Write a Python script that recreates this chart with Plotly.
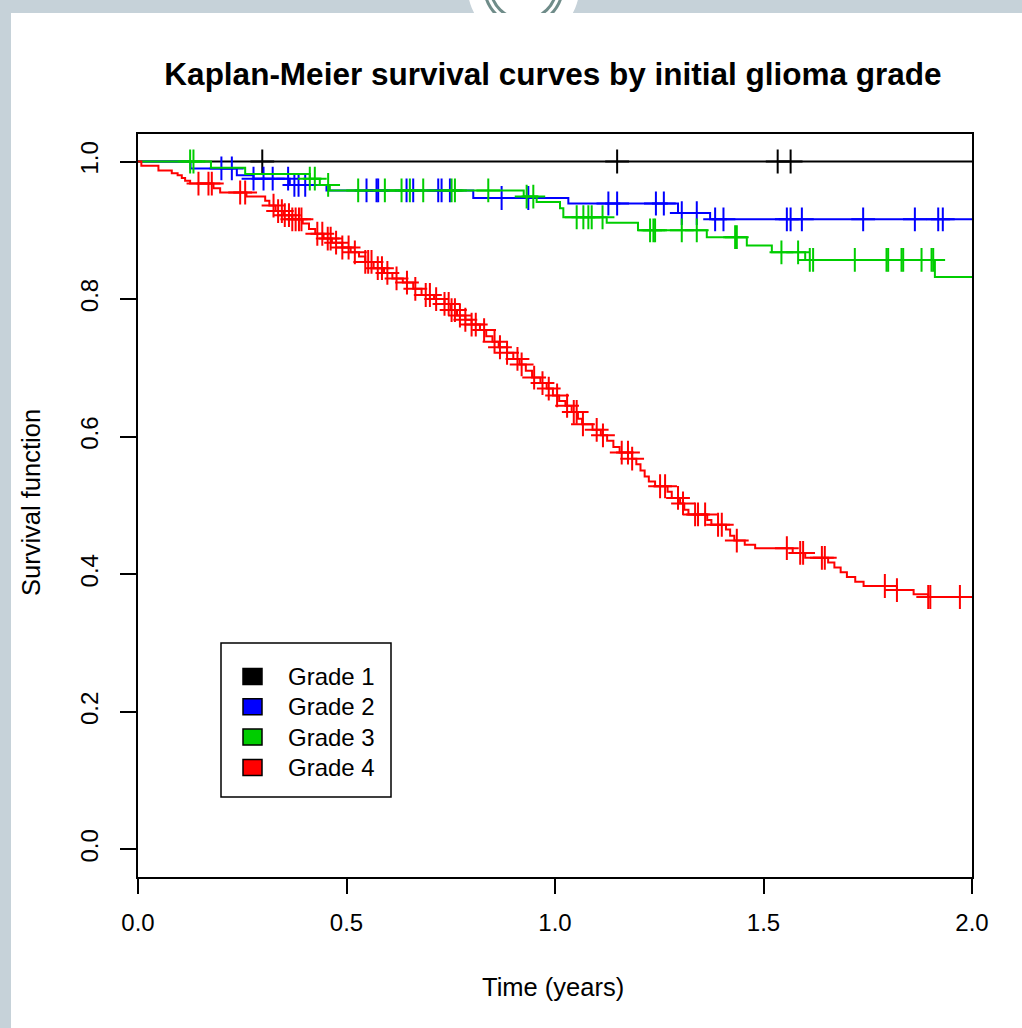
import numpy as np
import plotly.graph_objects as go

# ---------------- data ----------------
grades = ["Grade 1", "Grade 2", "Grade 3", "Grade 4"]
colors = ["#000000", "#0000FF", "#00CD00", "#FF0000"]
followup_end = 2.0

x_tick_vals = [0.0, 0.5, 1.0, 1.5, 2.0]
x_tick_text = ["0.0", "0.5", "1.0", "1.5", "2.0"]
y_tick_vals = [0.0, 0.2, 0.4, 0.6, 0.8, 1.0]
y_tick_text = ["0.0", "0.2", "0.4", "0.6", "0.8", "1.0"]

# Grade 1
g1_time = [0.0]
g1_surv = [1.0]
g1_cens = [0.298, 1.149, 1.534, 1.565]

# Grade 2
g2_time = [0.0, 0.126, 0.237, 0.277, 0.364, 0.452, 0.804, 1.032, 1.295, 1.372]
g2_surv = [1.0, 0.990, 0.980, 0.975, 0.966, 0.958, 0.947, 0.939, 0.925, 0.916]
g2_cens = [0.200, 0.225, 0.277, 0.301, 0.323, 0.360, 0.375, 0.385, 0.401, 0.548,
           0.572, 0.576, 0.644, 0.660, 0.720, 0.728, 0.748, 0.872, 0.936, 1.128,
           1.149, 1.242, 1.261, 1.304, 1.340, 1.384, 1.404, 1.556, 1.565, 1.592,
           1.739, 1.863, 1.919, 1.930]

# Grade 3
g3_time = [0.0, 0.175, 0.257, 0.412, 0.436, 0.460, 0.925, 0.956, 1.012, 1.020,
           1.124, 1.199, 1.364, 1.460, 1.520, 1.600, 1.911]
g3_surv = [1.0, 0.991, 0.982, 0.975, 0.966, 0.958, 0.949, 0.941, 0.932, 0.919,
           0.911, 0.900, 0.890, 0.878, 0.868, 0.857, 0.832]
g3_cens = [0.125, 0.133, 0.412, 0.424, 0.456, 0.528, 0.592, 0.632, 0.652, 0.684,
           0.752, 0.760, 0.840, 0.932, 0.948, 1.052, 1.068, 1.080, 1.088, 1.114,
           1.228, 1.236, 1.240, 1.304, 1.340, 1.432, 1.436, 1.543, 1.583, 1.611,
           1.619, 1.719, 1.795, 1.799, 1.831, 1.835, 1.879, 1.903, 1.907]

# Grade 4
g4_time = [0.0, 0.008, 0.049, 0.081, 0.095, 0.105, 0.113, 0.125, 0.181, 0.197,
           0.260, 0.305, 0.315, 0.330, 0.350, 0.370, 0.395, 0.410, 0.425, 0.445,
           0.465, 0.490, 0.510, 0.530, 0.545, 0.565, 0.590, 0.610, 0.635, 0.660,
           0.680, 0.710, 0.735, 0.750, 0.765, 0.785, 0.800, 0.820, 0.835, 0.850,
           0.865, 0.885, 0.900, 0.915, 0.930, 0.945, 0.965, 0.980, 0.995, 1.010,
           1.025, 1.040, 1.055, 1.065, 1.090, 1.110, 1.125, 1.140, 1.155, 1.185,
           1.195, 1.205, 1.215, 1.225, 1.240, 1.270, 1.280, 1.300, 1.310, 1.320,
           1.365, 1.375, 1.410, 1.420, 1.430, 1.455, 1.480, 1.570, 1.600, 1.655,
           1.670, 1.685, 1.700, 1.720, 1.740, 1.820, 1.860, 1.895]
g4_surv = [1.0, 0.994, 0.987, 0.983, 0.980, 0.976, 0.972, 0.968, 0.961, 0.955,
           0.949, 0.943, 0.936, 0.928, 0.922, 0.916, 0.910, 0.902, 0.895, 0.888,
           0.882, 0.875, 0.868, 0.862, 0.854, 0.845, 0.838, 0.830, 0.824, 0.815,
           0.806, 0.800, 0.793, 0.784, 0.776, 0.770, 0.763, 0.755, 0.746, 0.738,
           0.730, 0.722, 0.713, 0.705, 0.696, 0.686, 0.678, 0.670, 0.660, 0.652,
           0.645, 0.636, 0.626, 0.618, 0.610, 0.602, 0.594, 0.585, 0.577, 0.568,
           0.560, 0.551, 0.542, 0.535, 0.528, 0.520, 0.511, 0.503, 0.494, 0.487,
           0.479, 0.472, 0.465, 0.456, 0.449, 0.443, 0.438, 0.431, 0.424, 0.417,
           0.410, 0.403, 0.396, 0.389, 0.383, 0.377, 0.371, 0.367]
g4_cens = [0.145, 0.169, 0.177, 0.245, 0.257, 0.325, 0.336, 0.345, 0.352, 0.362,
           0.370, 0.378, 0.386, 0.392, 0.430, 0.442, 0.455, 0.462, 0.475, 0.490,
           0.505, 0.520, 0.545, 0.552, 0.560, 0.575, 0.585, 0.598, 0.620, 0.645,
           0.665, 0.690, 0.700, 0.715, 0.735, 0.745, 0.752, 0.760, 0.772, 0.785,
           0.800, 0.810, 0.830, 0.855, 0.868, 0.885, 0.910, 0.920, 0.950, 0.970,
           0.985, 1.005, 1.029, 1.045, 1.052, 1.067, 1.100, 1.115, 1.160, 1.175,
           1.185, 1.252, 1.264, 1.295, 1.307, 1.336, 1.343, 1.360, 1.391, 1.400,
           1.436, 1.556, 1.588, 1.595, 1.640, 1.647, 1.791, 1.820, 1.895, 1.900,
           1.971]

series = [(g1_time, g1_surv, g1_cens), (g2_time, g2_surv, g2_cens),
          (g3_time, g3_surv, g3_cens), (g4_time, g4_surv, g4_cens)]

title_text = "Kaplan-Meier survival curves by initial glioma grade"
x_title = "Time (years)"
y_title = "Survival function"

# ---------------- layout geometry ----------------
W, H = 1022, 1028
PL, PR, PT, PB = 138, 972, 134, 877   # plot box in pixels
FONT = "Liberation Sans, Arial, sans-serif"


def px(x):
    return (x - PL) / (PR - PL)


def py(y):
    return (PB - y) / (PB - PT)


fig = go.Figure()

for name, col, (t, s, c) in zip(grades, colors, series):
    xs = list(t) + [followup_end]
    ys = list(s) + [s[-1]]
    fig.add_trace(go.Scatter(x=xs, y=ys, mode="lines", name=name,
                             line=dict(color=col, width=2, shape="hv"),
                             showlegend=False, hoverinfo="skip"))
    idx = np.searchsorted(np.array(t), np.array(c), side="right") - 1
    cy = np.array(s)[idx]
    fig.add_trace(go.Scatter(x=c, y=cy, mode="markers", name=name,
                             marker=dict(symbol="cross-thin", size=17,
                                         color=col, line=dict(color=col, width=2)),
                             showlegend=False, hoverinfo="skip"))

shapes = []
band = "#C6D2D9"
# page frame bands
shapes.append(dict(type="rect", xref="paper", yref="paper", x0=px(0), x1=px(11),
                   y0=py(H), y1=py(0), fillcolor=band, line=dict(width=0), layer="below"))
shapes.append(dict(type="rect", xref="paper", yref="paper", x0=px(0), x1=px(W),
                   y0=py(13), y1=py(0), fillcolor=band, line=dict(width=0), layer="below"))
# emblem at the top
cx, cyy = 523.5, -13.5
shapes.append(dict(type="circle", xref="paper", yref="paper", x0=px(cx - 56), x1=px(cx + 56),
                   y0=py(cyy + 56), y1=py(cyy - 56), fillcolor="white", line=dict(width=0), layer="below"))
for r in (39, 33):
    shapes.append(dict(type="circle", xref="paper", yref="paper", x0=px(cx - r), x1=px(cx + r),
                       y0=py(cyy + r), y1=py(cyy - r), fillcolor="rgba(0,0,0,0)",
                       line=dict(color="#6F8C89", width=3), layer="below"))
shapes.append(dict(type="rect", xref="paper", yref="paper", x0=px(455), x1=px(595),
                   y0=py(50), y1=py(13), fillcolor="white", line=dict(width=0), layer="below"))

# legend box (drawn manually to mimic base-R legend)
LX0, LX1, LY0, LY1 = 221, 391, 643, 797
shapes.append(dict(type="rect", xref="paper", yref="paper", x0=px(LX0), x1=px(LX1),
                   y0=py(LY1), y1=py(LY0), fillcolor="white",
                   line=dict(color="black", width=1.5), layer="above"))
annotations = []
row0, row_gap = 676.5, 30.3
for i, (name, col) in enumerate(zip(grades, colors)):
    yc = row0 + i * row_gap
    shapes.append(dict(type="rect", xref="paper", yref="paper", x0=px(243), x1=px(262),
                       y0=py(yc + 8), y1=py(yc - 8), fillcolor=col,
                       line=dict(color="black", width=1.5), layer="above"))
    annotations.append(dict(text=name, xref="paper", yref="paper", x=px(286), y=py(yc),
                            xanchor="left", yanchor="middle", showarrow=False,
                            font=dict(family=FONT, size=24, color="black")))

annotations.append(dict(text=x_title, xref="paper", yref="paper", x=px(553), y=py(987),
                        xanchor="center", yanchor="middle", showarrow=False,
                        font=dict(family=FONT, size=25.5, color="black")))
annotations.append(dict(text=y_title, xref="paper", yref="paper", x=px(31), y=py(503),
                        xanchor="center", yanchor="middle", showarrow=False, textangle=-90,
                        font=dict(family=FONT, size=25.5, color="black")))

fig.update_layout(
    width=W, height=H,
    margin=dict(l=PL, r=W - PR, t=PT, b=H - PB, autoexpand=False),
    paper_bgcolor="white", plot_bgcolor="white",
    title=dict(text=title_text, x=px(553), xref="paper", xanchor="center",
               y=1 - 74 / H, yref="container", yanchor="middle",
               font=dict(family=FONT, size=31.5, color="black", weight="bold")),
    shapes=shapes, annotations=annotations, showlegend=False,
    xaxis=dict(range=[0, 2], tickvals=x_tick_vals, ticktext=x_tick_text,
               showline=True, mirror=True, linecolor="black", linewidth=2,
               ticks="outside", ticklen=15, tickwidth=2, tickcolor="black",
               showgrid=False, zeroline=False, ticklabelstandoff=8,
               tickfont=dict(family=FONT, size=24, color="black")),
    yaxis=dict(range=[-0.04, 1.04], tickvals=y_tick_vals, ticktext=y_tick_text,
               showline=True, mirror=True, linecolor="black", linewidth=2,
               ticks="outside", ticklen=16, tickwidth=2, tickcolor="black",
               showgrid=False, zeroline=False, tickangle=-90, ticklabelstandoff=12,
               tickfont=dict(family=FONT, size=24, color="black")),
)

fig.write_html("out.html", config={"displayModeBar": False},
               post_script="document.body.style.margin='0';"
                           "document.body.style.overflow='hidden';")
